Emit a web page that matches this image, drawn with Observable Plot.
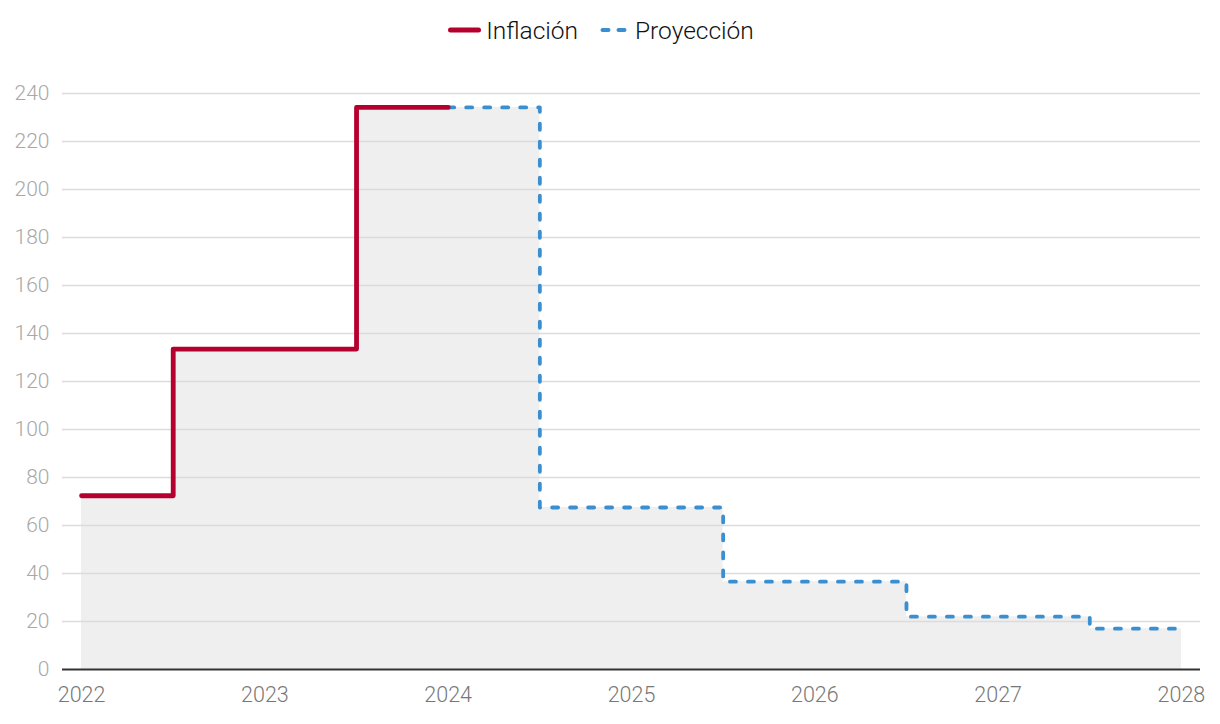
<!DOCTYPE html>
<html><head><meta charset="utf-8">
<script src="https://cdn.jsdelivr.net/npm/d3@7"></script>
<script src="https://cdn.jsdelivr.net/npm/@observablehq/plot@0.6"></script>
<style>
body{margin:0;background:#fff;font-family:Roboto,"Noto Sans",sans-serif;}
#legend{height:60px;display:flex;justify-content:center;align-items:center;gap:22px;font-size:24.5px;font-weight:300;color:#111;box-sizing:border-box;padding-right:18px;}
#legend .item{display:flex;align-items:center;gap:5px;}
#legend svg{display:block}
#chart svg{display:block}
</style></head>
<body>
<div id="legend"></div>
<div id="chart"></div>
<script>
const years = [2022, 2023, 2024, 2025, 2026, 2027, 2028];
const inflationYears = [2022, 2023, 2024];
const inflationValues = [72.4, 133.5, 234.2];
const projectionYears = [2024, 2025, 2026, 2027, 2028];
const projectionValues = [234.2, 67.5, 36.6, 22.0, 17.0];
const yTicks = [0, 20, 40, 60, 80, 100, 120, 140, 160, 180, 200, 220, 240];
const seriesNames = ["Inflación", "Proyección"];
const colors = ["#b5002f", "#3a8fd0"];

const inflation = inflationYears.map((y, i) => ({year: y, value: inflationValues[i]}));
const projection = projectionYears.map((y, i) => ({year: y, value: projectionValues[i]}));
const all = inflation.concat(projection.slice(1));

// legend
const leg = d3.select("#legend");
seriesNames.forEach((name, i) => {
  const it = leg.append("div").attr("class", "item");
  const w = i === 0 ? 33 : 30;
  const s = it.append("svg").attr("width", w).attr("height", 10);
  s.append("line").attr("x1", 2.5).attr("x2", w - 2.5).attr("y1", 5).attr("y2", 5)
    .attr("stroke", colors[i]).attr("stroke-width", i === 0 ? 5 : 4)
    .attr("stroke-linecap", "round")
    .attr("stroke-dasharray", i === 0 ? null : "6 10");
  it.append("span").text(name);
});

const pad = 0.104;
const chart = Plot.plot({
  width: 1220,
  height: 664,
  marginLeft: 62,
  marginRight: 20,
  marginTop: 33,
  marginBottom: 55,
  style: {fontFamily: "Roboto, sans-serif", fontSize: "20px", background: "#fff"},
  x: {domain: [years[0] - pad, years[years.length - 1] + pad], label: null},
  y: {domain: [0, 240], label: null},
  marks: [
    Plot.areaY(all, {x: "year", y: "value", curve: "step", fill: "#efefef"}),
    Plot.gridY(yTicks.filter(d => d > 0), {stroke: "#dcdcdc", strokeOpacity: 1, strokeWidth: 1.5}),
    Plot.axisY(yTicks, {tickSize: 0, tickPadding: 13, fill: "#a8a8a8", fontSize: 21, fontWeight: 300}),
    Plot.axisX(years, {tickSize: 0, tickPadding: 17, tickFormat: "d", fill: "#777", fontSize: 21.5, fontWeight: 300}),
    Plot.ruleY([0], {stroke: "#333", strokeWidth: 2}),
    Plot.line(projection, {x: "year", y: "value", curve: "step", stroke: colors[1], strokeWidth: 3.8, strokeDasharray: "6 12", strokeLinecap: "round"}),
    Plot.line(inflation, {x: "year", y: "value", curve: "step", stroke: colors[0], strokeWidth: 4.8, strokeLinecap: "round", strokeLinejoin: "round"})
  ]
});
document.getElementById("chart").appendChild(chart);
</script>
</body></html>
